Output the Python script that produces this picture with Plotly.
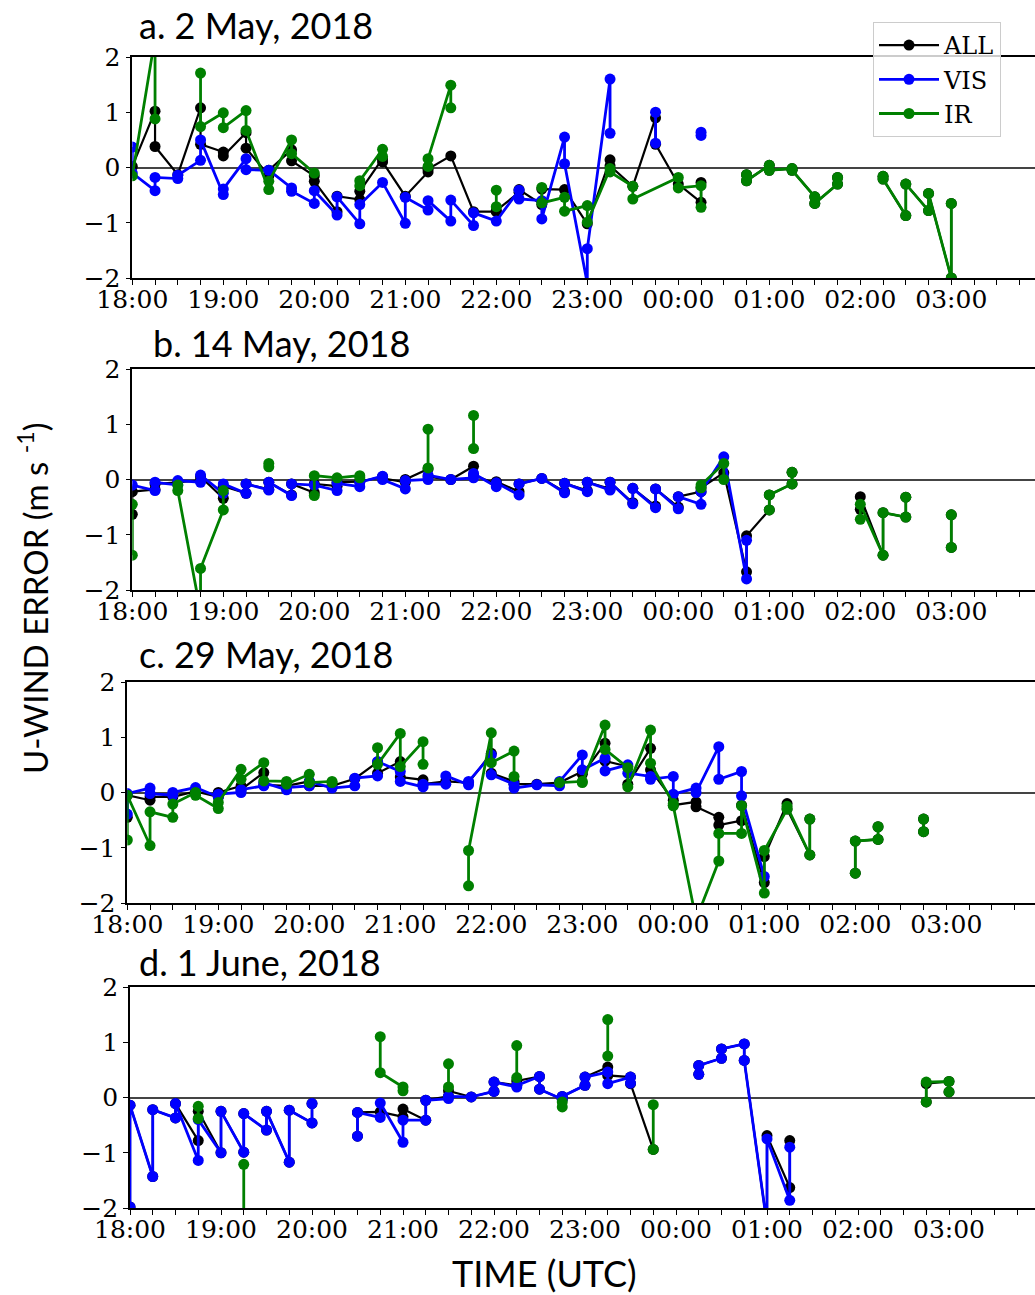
import plotly.graph_objects as go

# ---------------- data (time, [value(s) at that time]); None = gap ----------------
A_ALL_T = ["18:00","18:15","18:30","18:45","19:00","19:15","19:30","19:45","20:00","20:15","20:30","20:45","21:00","21:15","21:30","21:45","22:00","22:15","22:30","22:45","23:00","23:15","23:30","23:45","00:00","00:15",None,"00:45","01:00","01:15","01:30","01:45",None,"02:15","02:30","02:45","03:00"]
A_ALL_V = [[0.02],[1.02,0.38],[-0.13],[1.08,0.42],[0.28,0.21],[0.63,0.35],[-0.15,-0.05],[0.32,0.12],[-0.15,-0.25],[-0.80,-0.52],[-0.58,-0.43],[0.16,0.10],[-0.52],[-0.08,-0.03],[0.21],[-0.80],[-0.80,-0.78],[-0.45,-0.40],[-0.67,-0.39],[-0.40],[-1.02],[0.14,0.03],[-0.34],[0.90,0.42],[-0.30],[-0.63,-0.27],None,[-0.13,-0.24],[0.04,-0.05],[-0.02,-0.05],[-0.53,-0.65],[-0.30,-0.18],None,[-0.16,-0.21],[-0.87,-0.30],[-0.78,-0.47],[-2.00,-0.65]]
A_VIS_T = ["18:00","18:15","18:30","18:45","19:00","19:15","19:30","19:45","20:00","20:15","20:30","20:45","21:00","21:15","21:30","21:45","22:00","22:15","22:30","22:45","23:00","23:15",None,"23:45",None,"00:15"]
A_VIS_V = [[0.37,-0.10],[-0.42,-0.18],[-0.20,-0.14],[0.13,0.50],[-0.49,-0.39],[0.16,-0.04],[-0.05],[-0.37,-0.43],[-0.65,-0.42],[-0.86,-0.53],[-1.02,-0.67],[-0.27],[-1.01,-0.54],[-0.77,-0.60],[-0.97,-0.59],[-1.05,-0.82],[-0.97],[-0.41,-0.57],[-0.60,-0.93],[0.55,0.07],[-2.10,-1.47],[1.60,0.62],None,[1.00,0.44],None,[0.64,0.58]]
A_IR_T = ["18:00","18:15",None,"18:45","19:00","19:15","19:30","19:45","20:00",None,"20:30","20:45",None,"21:15","21:30",None,"22:00",None,"22:30","22:45","23:00","23:15","23:30","00:00","00:15",None,"00:45","01:00","01:15","01:30","01:45",None,"02:15","02:30","02:45","03:00"]
A_IR_V = [[-0.15],[2.35,0.88],None,[1.71,0.74],[0.99,0.72],[1.03,0.67],[-0.40,-0.25],[0.50,0.25],[-0.10],None,[-0.33,-0.24],[0.33,0.20],None,[0.02,0.16],[1.49,1.08],None,[-0.41,-0.71],None,[-0.36,-0.64],[-0.54,-0.79],[-0.69,-0.99],[-0.02,-0.08],[-0.34,-0.57],[-0.18,-0.37],[-0.33,-0.72],None,[-0.13,-0.24],[0.04,-0.05],[-0.02,-0.05],[-0.53,-0.65],[-0.30,-0.18],None,[-0.16,-0.21],[-0.87,-0.30],[-0.78,-0.47],[-2.00,-0.65]]

B_ALL_T = ["18:00","18:15","18:30","18:45","19:00","19:15","19:30","19:45","20:00","20:15","20:30","20:45","21:00","21:15","21:30","21:45","22:00","22:15","22:30","22:45","23:00","23:15","23:30","23:45","00:00","00:15","00:30","00:45","01:00","01:15",None,"02:00","02:15","02:30",None,"03:00"]
B_ALL_V = [[-0.63,-0.22],[-0.18,-0.08],[-0.05],[-0.02,0.05],[-0.34,-0.12],[-0.25,-0.08],[-0.18,-0.05],[-0.28,-0.08],[-0.24,-0.08],[-0.12,-0.05],[-0.04],[0.05,0.02],[-0.05,0.00],[0.19,0.05],[0.00],[0.24,0.08],[-0.08,-0.04],[-0.22,-0.08],[0.02],[-0.22,-0.07],[-0.20,-0.05],[-0.17,-0.05],[-0.42,-0.16],[-0.48,-0.17],[-0.50,-0.31],[-0.22,-0.15],[0.12],[-1.67,-1.02],[-0.55,-0.28],[-0.08,0.13],None,[-0.54,-0.31],[-1.37,-0.60],[-0.68,-0.32],None,[-1.23,-0.64]]
B_VIS_T = ["18:00","18:15","18:30","18:45","19:00","19:15","19:30","19:45","20:00","20:15","20:30","20:45","21:00","21:15","21:30","21:45","22:00","22:15","22:30","22:45","23:00","23:15","23:30","23:45","00:00","00:15","00:30","00:45"]
B_VIS_V = [[-0.10],[-0.20,-0.05],[-0.10,-0.02],[-0.05,0.08],[-0.25,-0.08],[-0.25,-0.08],[-0.19,-0.05],[-0.29,-0.08],[-0.10],[-0.20,-0.07],[-0.13,-0.05],[0.06,0.00],[-0.17,-0.02],[0.00,0.08],[0.00],[0.03,0.11],[-0.13,-0.06],[-0.28,-0.08],[0.02],[-0.24,-0.07],[-0.22,-0.05],[-0.19,-0.05],[-0.44,-0.16],[-0.51,-0.17],[-0.53,-0.31],[-0.45,-0.22],[0.41],[-1.80,-1.10]]
B_IR_T = ["18:00",None,"18:30","18:45","19:00",None,"19:30",None,"20:00","20:15","20:30",None,"21:15",None,"21:45",None,"00:15","00:30",None,"01:00","01:15",None,"02:00","02:15","02:30",None,"03:00"]
B_IR_V = [[-1.37,-0.45],None,[-0.10,-0.20],[-2.40,-1.61],[-0.55,-0.20],None,[0.29,0.23],None,[-0.29,0.07],[0.03],[0.07,0.03],None,[0.91,0.21],None,[1.16,0.56],None,[-0.15,-0.10],[0.29,0.00],None,[-0.55,-0.28],[-0.08,0.13],None,[-0.72,-0.45],[-1.37,-0.60],[-0.68,-0.32],None,[-1.23,-0.64]]

C_ALL_T = ["18:00","18:15","18:30","18:45","19:00","19:15","19:30","19:45","20:00","20:15","20:30","20:45","21:00","21:15","21:30","21:45","22:00","22:15","22:30","22:45","23:00","23:15","23:30","23:45","00:00","00:15","00:30","00:45","01:00","01:15","01:30",None,"02:00","02:15",None,"02:45"]
C_ALL_V = [[-0.45,-0.05],[-0.14,-0.08],[-0.08],[0.02],[-0.08,0.00],[0.12,0.05],[0.36,0.14],[0.12],[0.20,0.12],[0.12],[0.25],[0.55,0.35],[0.56,0.28],[0.23,0.15],[0.20],[0.18],[0.71,0.35],[0.20,0.15],[0.15],[0.18],[0.38,0.33],[0.89,0.57],[0.47,0.15],[0.80,0.41],[-0.14,-0.23],[-0.17,-0.26],[-0.45,-0.59],[-0.51,-0.23],[-1.63,-1.16],[-0.20,-0.30],[-1.13,-0.48],None,[-1.46,-0.88],[-0.85,-0.62],None,[-0.71,-0.48]]
C_VIS_T = ["18:00","18:15","18:30","18:45","19:00","19:15","19:30","19:45","20:00","20:15","20:30","20:45","21:00","21:15","21:30","21:45","22:00","22:15","22:30","22:45","23:00","23:15","23:30","23:45","00:00","00:15","00:30","00:45","01:00"]
C_VIS_V = [[-0.39,-0.02],[0.08,-0.02],[-0.05,0.00],[0.09],[-0.08,-0.03],[0.00,0.05],[0.12,0.18],[0.05,0.09],[0.12,0.20],[0.08],[0.12,0.26],[0.30,0.56],[0.38,0.20],[0.10,0.15],[0.15,0.30],[0.14,0.20],[0.68,0.32],[0.15,0.08],[0.14],[0.12,0.20],[0.68,0.41],[0.62,0.39],[0.50,0.35],[0.29,0.24],[0.29,-0.03],[0.08,0.00],[0.83,0.24],[0.38,-0.06],[-1.52]]
C_IR_T = ["18:00","18:15","18:30","18:45","19:00","19:15","19:30","19:45","20:00","20:15",None,"20:45","21:00","21:15",None,"21:45","22:00","22:15",None,"22:45","23:00","23:15","23:30","23:45","00:00","00:15","00:30","00:45","01:00","01:15","01:30",None,"02:00","02:15",None,"02:45"]
C_IR_V = [[-0.86,-0.05],[-0.96,-0.35],[-0.45,-0.21],[0.00,-0.05],[-0.29,-0.18],[0.42,0.24],[0.54,0.21],[0.20,0.15],[0.33,0.18],[0.20,0.18],None,[0.81,0.51],[1.07,0.47],[0.92,0.51],None,[-1.69,-1.05],[1.08,0.54],[0.75,0.29],None,[0.18],[0.20,0.18],[1.22,0.78],[0.45,0.10],[1.13,0.53],[-0.20,-0.24],[-2.30],[-1.24,-0.74],[-0.74,-0.24],[-1.82,-1.05],[-0.30,-0.25],[-1.13,-0.48],None,[-1.46,-0.88],[-0.85,-0.62],None,[-0.71,-0.48]]

D_ALL_T = ["18:00","18:15","18:30","18:45","19:00","19:15","19:30","19:45","20:00",None,"20:30","20:45","21:00","21:15","21:30","21:45","22:00","22:15","22:30","22:45","23:00","23:15","23:30","23:45",None,"00:15","00:30","00:45","01:00","01:15",None,"02:45","03:00"]
D_ALL_V = [[-1.98,-0.14],[-1.43,-0.22],[-0.37,-0.11],[-0.78,-0.25],[-1.00,-0.25],[-0.99,-0.29],[-0.59,-0.25],[-1.17,-0.23],[-0.46,-0.11],None,[-0.70,-0.27],[-0.26],[-0.35,-0.21],[-0.41,-0.05],[0.02,0.12],[0.01],[0.11,0.28],[0.22,0.30],[0.38,0.15],[-0.03,0.02],[0.22,0.37],[0.55,0.40],[0.37,0.25],[-0.94],None,[0.42,0.58],[0.71,0.88],[0.97,0.67],[-2.30,-0.69],[-1.63,-0.78],None,[-0.08,0.25],[0.29,0.10]]
D_VIS_T = ["18:00","18:15","18:30","18:45","19:00","19:15","19:30","19:45","20:00",None,"20:30","20:45","21:00","21:15","21:30","21:45","22:00","22:15","22:30","22:45","23:00","23:15","23:30",None,"00:15","00:30","00:45","01:00","01:15"]
D_VIS_V = [[-1.98,-0.14],[-1.43,-0.22],[-0.37,-0.11],[-1.14,-0.40],[-1.00,-0.25],[-0.99,-0.29],[-0.59,-0.25],[-1.17,-0.23],[-0.46,-0.11],None,[-0.70,-0.27],[-0.36,-0.10],[-0.81,-0.41],[-0.41,-0.05],[-0.02,0.02],[0.01],[0.11,0.28],[0.19,0.22],[0.38,0.15],[-0.03,0.02],[0.22,0.37],[0.46,0.25],[0.37,0.26],None,[0.42,0.58],[0.71,0.88],[0.97,0.67],[-2.30,-0.75],[-1.86,-0.90]]
D_IR_T = ["18:45",None,"19:15",None,"20:45","21:00",None,"21:30",None,"22:15",None,"22:45",None,"23:15",None,"23:45",None,"02:45","03:00"]
D_IR_V = [[-0.16,-0.38],None,[-1.21,-2.50],None,[1.10,0.45],[0.19,0.12],None,[0.61,0.19],None,[0.94,0.36],None,[-0.08,-0.17],None,[1.41,0.75],None,[-0.94,-0.13],None,[-0.08,0.28],[0.29,0.10]]

PANEL_TITLES = ["a. 2 May, 2018", "b. 14 May, 2018", "c. 29 May, 2018", "d. 1 June, 2018"]
SERIES_NAMES = ["ALL", "VIS", "IR"]
HOUR_LABELS = ["18:00","19:00","20:00","21:00","22:00","23:00","00:00","01:00","02:00","03:00"]

DATA = [
    [(A_ALL_T, A_ALL_V), (A_VIS_T, A_VIS_V), (A_IR_T, A_IR_V)],
    [(B_ALL_T, B_ALL_V), (B_VIS_T, B_VIS_V), (B_IR_T, B_IR_V)],
    [(C_ALL_T, C_ALL_V), (C_VIS_T, C_VIS_V), (C_IR_T, C_IR_V)],
    [(D_ALL_T, D_ALL_V), (D_VIS_T, D_VIS_V), (D_IR_T, D_IR_V)],
]

# ---------------- styling / geometry ----------------
W, H = 1035, 1295
PX_PER_HOUR = 91.0
GEOM = [
    dict(left=132.3, top=57, bottom=278, tx=137, ty=25),
    dict(left=132.3, top=369, bottom=590, tx=151, ty=343),
    dict(left=127.3, top=682, bottom=903, tx=137, ty=654),
    dict(left=130.0, top=987, bottom=1208, tx=137, ty=962),
]
COLORS = ["#000000", "#0000ff", "#008000"]
WIDTHS = [2.2, 2.8, 2.8]
TICK_FONT = dict(family="DejaVu Serif", size=25, color="black")
SANS = "Lato"


def hrs(t):
    h, m = map(int, t.split(":"))
    if h < 12:
        h += 24
    return h - 18 + m / 60.0


def expand(times, vals):
    assert len(times) == len(vals), (len(times), len(vals))
    xs, ys = [], []
    for t, v in zip(times, vals):
        if t is None:
            xs.append(None)
            ys.append(None)
            continue
        for val in v:
            xs.append(hrs(t))
            ys.append(val)
    return xs, ys


fig = go.Figure()
layout = dict(
    width=W, height=H, margin=dict(l=0, r=0, t=0, b=0, autoexpand=False),
    paper_bgcolor="white", plot_bgcolor="white",
    showlegend=True,
    legend=dict(x=873 / W, y=1 - 22 / H, xanchor="left", yanchor="top",
                font=dict(family="DejaVu Serif", size=24, color="black"),
                bgcolor="rgba(255,255,255,0.8)", bordercolor="#cccccc", borderwidth=1,
                itemwidth=60, tracegroupgap=0),
)
annotations = []

tickvals = [i * 0.25 for i in range(40)]
ticktext = [HOUR_LABELS[i // 4] if i % 4 == 0 and i // 4 < len(HOUR_LABELS) else "" for i in range(40)]

for p, (geom, series) in enumerate(zip(GEOM, DATA)):
    sfx = "" if p == 0 else str(p + 1)
    xa, ya = "x" + sfx, "y" + sfx
    for s, (times, vals) in enumerate(series):
        xs, ys = expand(times, vals)
        fig.add_trace(go.Scatter(
            x=xs, y=ys, mode="lines+markers", name=SERIES_NAMES[s],
            line=dict(color=COLORS[s], width=WIDTHS[s]),
            marker=dict(color=COLORS[s], size=11),
            connectgaps=False, showlegend=(p == 0),
            xaxis=xa, yaxis=ya, hoverinfo="skip",
        ))
    left = geom["left"]
    layout["xaxis" + sfx] = dict(
        domain=[left / W, 1.0], range=[0, (W - left) / PX_PER_HOUR],
        anchor=ya, showgrid=False, zeroline=False, automargin=False,
        showline=True, linecolor="black", linewidth=1.6, mirror=True,
        ticks="outside", ticklen=5, tickwidth=1.2, tickcolor="black",
        tickvals=tickvals, ticktext=ticktext, tickfont=TICK_FONT,
        ticklabelstandoff=-7,
    )
    layout["yaxis" + sfx] = dict(
        domain=[1 - geom["bottom"] / H, 1 - geom["top"] / H], range=[-2, 2],
        anchor=xa, showgrid=False, automargin=False,
        zeroline=True, zerolinecolor="#444444", zerolinewidth=1.5,
        showline=True, linecolor="black", linewidth=1.6, mirror=False,
        ticks="outside", ticklen=5, tickwidth=1.2, tickcolor="black",
        tickvals=[-2, -1, 0, 1, 2], tickfont=TICK_FONT,
    )
    annotations.append(dict(
        text=PANEL_TITLES[p], xref="paper", yref="paper",
        x=geom["tx"] / W, y=1 - geom["ty"] / H, xanchor="left", yanchor="middle",
        showarrow=False, font=dict(family=SANS, size=36, color="black"),
    ))

annotations.append(dict(
    text="TIME (UTC)", xref="paper", yref="paper", x=544 / W, y=1 - 1273 / H,
    xanchor="center", yanchor="middle", showarrow=False,
    font=dict(family=SANS, size=36, color="black"),
))
annotations.append(dict(
    text="U-WIND ERROR (m s <sup>-1</sup>)", xref="paper", yref="paper",
    x=33 / W, y=1 - 598 / H, xanchor="center", yanchor="middle", textangle=-90,
    showarrow=False, font=dict(family=SANS, size=33, color="black"),
))
layout["annotations"] = annotations
fig.update_layout(**layout)
fig.write_html("out.html")
